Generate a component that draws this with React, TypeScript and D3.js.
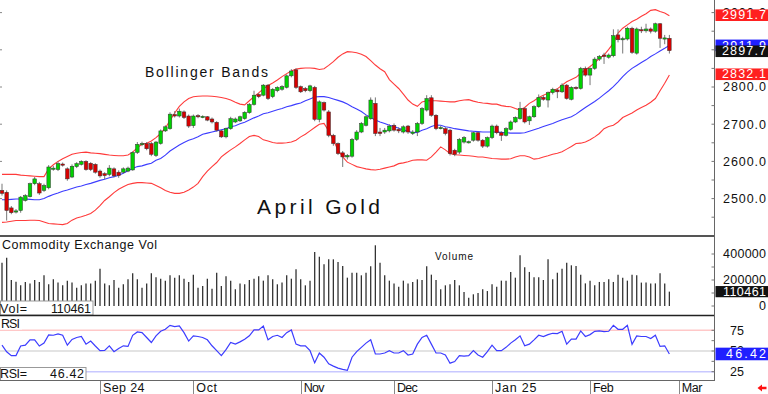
import React from 'react';
import * as d3 from 'd3';

const W = 768;
const H = 394;
const FONT = "'Liberation Sans', Arial, sans-serif";

// April Gold daily bars (index 0 = first bar on chart)
const opens = [2522,2517,2475,2465,2468,2495,2505,2540,2540,2522, 2529,2580,2578,2593,2580,2558,2586,2592,2600,2595, 2592,2574,2567,2565,2580,2571,2571,2574,2577,2624, 2646,2648,2648,2616,2648,2682,2688,2726,2722,2733, 2722,2696,2723,2720,2720,2714,2705,2682,2666,2688, 2706,2709,2715,2731,2753,2780,2778,2805,2774,2790, 2794,2799,2830,2846,2801,2796,2790,2799,2713,2758, 2733,2670,2648,2623,2612,2614,2659,2679,2697,2715, 2756,2679,2679,2682,2697,2686,2679,2695,2675,2679, 2702,2738,2771,2724,2690,2688,2684,2630,2625,2652, 2651,2657,2677,2657,2641,2664,2695,2677,2670,2686, 2706,2715,2742,2709,2720,2747,2772,2765,2785,2792, 2787,2805,2767,2799,2796,2850,2832,2850,2875,2886, 2880,2884,2940,2929,2929,2958,2891,2954,2951,2956, 2950,2970,2931,2931];
const highs = [2540,2522,2480,2472,2507,2512,2543,2558,2545,2540, 2590,2588,2600,2597,2584,2592,2598,2603,2603,2598, 2595,2578,2571,2590,2584,2576,2584,2586,2627,2652, 2653,2652,2652,2655,2686,2697,2732,2735,2742,2737, 2726,2726,2727,2724,2722,2718,2708,2685,2691,2720, 2718,2723,2735,2757,2790,2784,2808,2808,2797,2802, 2805,2834,2848,2850,2804,2800,2806,2803,2764,2761, 2738,2674,2651,2628,2620,2663,2684,2706,2724,2772, 2772,2690,2690,2700,2702,2692,2697,2698,2684,2706, 2746,2778,2778,2727,2696,2692,2688,2634,2663,2668, 2656,2680,2680,2660,2667,2699,2699,2681,2692,2710, 2721,2760,2746,2723,2751,2780,2778,2788,2798,2796, 2810,2808,2802,2802,2854,2855,2853,2880,2886,2892, 2890,2955,2955,2935,2962,2962,2960,2962,2970,2960, 2973,2972,2940,2940];
const lows = [2508,2441,2458,2460,2462,2492,2503,2536,2510,2518, 2525,2575,2574,2586,2548,2555,2582,2589,2575,2574, 2567,2556,2552,2560,2557,2556,2567,2571,2575,2620, 2641,2630,2614,2612,2645,2679,2685,2718,2718,2714, 2690,2690,2716,2716,2708,2702,2680,2663,2662,2685, 2703,2706,2712,2728,2750,2770,2775,2765,2770,2786, 2790,2796,2826,2795,2784,2786,2786,2708,2705,2734, 2665,2642,2617,2585,2605,2610,2655,2676,2694,2712, 2668,2668,2674,2678,2680,2676,2675,2674,2671,2668, 2698,2734,2720,2684,2686,2670,2616,2614,2620,2648, 2648,2653,2653,2636,2637,2660,2673,2655,2667,2683, 2703,2712,2702,2698,2717,2744,2763,2745,2780,2770, 2784,2766,2764,2793,2793,2828,2805,2846,2870,2862, 2876,2880,2920,2890,2925,2889,2887,2945,2946,2944, 2946,2905,2915,2890];
const closes = [2514,2468,2462,2467,2504,2508,2540,2553,2515,2535, 2585,2582,2594,2590,2553,2587,2594,2600,2578,2578, 2571,2561,2562,2582,2561,2562,2580,2582,2624,2646, 2648,2634,2619,2652,2682,2693,2727,2722,2735,2718, 2695,2722,2720,2721,2711,2706,2684,2666,2688,2715, 2714,2720,2732,2753,2778,2774,2805,2769,2794,2799, 2801,2830,2843,2799,2787,2790,2803,2713,2760,2738, 2670,2648,2621,2612,2616,2659,2679,2702,2720,2765, 2675,2675,2684,2695,2684,2682,2693,2679,2679,2702, 2742,2769,2724,2688,2691,2675,2621,2619,2659,2664, 2653,2677,2657,2641,2664,2695,2677,2670,2688,2706, 2718,2742,2706,2720,2747,2772,2767,2785,2794,2787, 2805,2769,2799,2796,2850,2832,2850,2875,2882,2882, 2886,2938,2927,2930,2958,2893,2956,2951,2956,2950, 2970,2931,2932,2897.7];

// Bollinger bands
const upperBand = [2565,2565,2565,2565,2563,2562,2561,2560,2559,2559, 2580,2591,2600,2607,2613,2619,2622,2624,2625,2623, 2622,2621,2619,2617,2616,2615,2615,2617,2625,2637, 2646,2649,2655,2664,2675,2690,2710,2730,2748,2760, 2769,2774,2775,2776,2776,2775,2774,2772,2769,2765, 2759,2754,2752,2763,2774,2784,2795,2804,2811,2819, 2828,2836,2843,2848,2850,2851,2851,2850,2847,2849, 2858,2868,2880,2889,2895,2894,2892,2888,2882,2871, 2859,2849,2841,2820,2808,2796,2781,2765,2754,2748, 2760,2763,2763,2763,2762,2761,2760,2760,2763,2765, 2766,2762,2759,2757,2756,2754,2754,2750,2748,2747, 2742,2738,2745,2756,2763,2772,2778,2783,2790,2795, 2805,2814,2820,2826,2837,2846,2855,2865,2877,2886, 2901,2918,2945,2958,2967,2976,2982,2990,2997,3006, 3008,3003,2999,2991.7];
const middleBand = [2497,2497,2498,2499,2499,2499,2498,2497,2497,2500, 2506,2511,2515,2520,2523,2527,2531,2534,2538,2541, 2545,2549,2552,2556,2559,2563,2568,2575,2581,2586, 2588,2592,2595,2603,2608,2617,2628,2636,2644,2651, 2657,2661,2666,2673,2676,2679,2682,2685,2688,2693, 2696,2701,2705,2711,2717,2722,2728,2731,2735,2739, 2742,2747,2750,2754,2757,2763,2768,2773,2774,2774, 2772,2768,2764,2760,2754,2747,2741,2734,2725,2718, 2711,2706,2702,2697,2694,2689,2685,2681,2677,2678, 2684,2688,2694,2698,2697,2693,2691,2688,2686,2684, 2682,2681,2680,2679,2679,2679,2679,2678,2677,2676, 2676,2676,2677,2681,2685,2689,2694,2698,2702,2707, 2712,2716,2720,2727,2736,2745,2753,2761,2770,2780, 2790,2801,2814,2828,2840,2850,2858,2866,2873,2882, 2889,2897,2904,2911.9];
const lowerBand = [2436,2437,2439,2441,2441,2441,2442,2442,2441,2437, 2433,2432,2431,2430,2433,2442,2448,2451,2455,2460, 2469,2481,2495,2505,2516,2525,2532,2538,2541,2543, 2543,2542,2541,2535,2529,2522,2517,2514,2514,2517, 2523,2531,2541,2559,2574,2586,2597,2612,2622,2631, 2639,2648,2658,2667,2670,2667,2658,2655,2651,2649, 2649,2650,2652,2657,2666,2673,2682,2691,2700,2702, 2682,2657,2631,2612,2598,2592,2586,2583,2580,2578, 2577,2579,2582,2585,2588,2594,2596,2599,2603,2604, 2604,2603,2612,2625,2639,2631,2621,2618,2617,2616, 2615,2614,2612,2612,2610,2608,2607,2606,2606,2607, 2612,2615,2615,2612,2606,2608,2612,2615,2619,2622, 2626,2633,2640,2648,2649,2652,2658,2666,2675,2688, 2694,2697,2706,2718,2724,2730,2738,2745,2751,2759, 2769,2790,2810,2832.1];

// Volume (contracts)
const volumes = [333000,372000,200000,187000,159000,185000,174000,200000,185000,236000, 167000,205000,180000,159000,195000,180000,141000,159000,174000,174000, 195000,287000,174000,159000,200000,141000,167000,205000,251000,205000, 141000,174000,251000,221000,210000,195000,236000,218000,236000,210000, 185000,241000,141000,154000,210000,133000,256000,154000,228000,195000, 128000,174000,167000,200000,210000,228000,195000,236000,205000,167000, 180000,236000,210000,282000,205000,159000,195000,415000,379000,321000, 359000,359000,338000,308000,218000,256000,256000,236000,256000,305000, 467000,333000,236000,195000,174000,149000,195000,174000,185000,205000, 200000,305000,241000,200000,128000,159000,167000,200000,159000,108000, 64000,90000,100000,128000,115000,167000,149000,195000,195000,262000, 218000,390000,298000,262000,221000,221000,200000,359000,205000,256000, 287000,333000,313000,308000,241000,174000,195000,159000,185000,185000, 205000,185000,241000,218000,195000,241000,236000,180000,180000,174000, 174000,251000,174000,110461];

// RSI
const rsi = [57,49,44.4,44.4,56,57,63.5,63.5,56,59.5, 69.4,69,70.6,69,57,64,66.3,67.5,58.3,62, 56,50.4,50.8,56.3,49.2,53,56.3,55.5,69,73, 72.2,66.3,60.3,68.3,73.8,76.2,81,79.4,80.2,72.2, 62,68.3,67.5,66.3,63.5,56.3,50.4,44.4,51.6,60.3, 58.3,61,64.3,68.3,75.4,75.4,80.2,63.5,67.5,69, 66.3,72.2,75.4,58.3,56.3,56.3,50.4,35.7,47.6,42.5, 34.5,31.7,29.4,27.8,26.6,42.5,49.2,54.4,59.5,63.5, 46.4,46.4,47.6,50.4,47.6,47.6,50.4,45.2,46.4,58.3, 66.3,69,58.3,47.6,47.6,45.2,35.3,37.3,44.4,43.7, 44.4,50.4,45.2,42.5,49.2,57.1,50.4,50.4,54.4,59.5, 63.5,68.3,56.3,58.3,63.5,69,67.5,69.8,71.4,71, 73.8,58.3,64.3,64.3,74.2,67.5,69.8,73.8,74.2,73.4, 73.8,81,76.2,76.2,81,58,68.3,67.5,67.5,65, 69,55.6,56.3,46.42];

const monthIndex = [21, 41, 64, 84, 105, 126, 145];
const monthLabels = ['Sep 24', 'Oct', 'Nov', 'Dec', 'Jan 25', 'Feb', 'Mar'];
const priceTicks = [2500, 2600, 2700, 2800, 2900, 3000];
const volumeTicks = [0, 200000, 400000];
const rsiTicks = [25, 75];

export default function App() {
  const n = closes.length;
  const idx = d3.range(n);
  const x = d3.scaleLinear().domain([0, n - 1]).range([2, 2 + (n - 1) * 4.667]);
  const yP = d3.scaleLinear().domain([2500, 2800]).range([198.6, 87]);
  const yV = d3.scaleLinear().domain([0, 400000]).range([306, 254]);
  const yR = d3.scaleLinear().domain([25, 75]).range([371.7, 330.3]);

  const bandPath = (arr: number[]) =>
    d3.line<number>().x((i) => x(i)).y((i) => yP(arr[i]))(idx) || '';
  const rsiPath = d3.line<number>().x((i) => x(i)).y((i) => yR(rsi[i]))(idx) || '';

  const axisX = 714.5;
  const lastClose = closes[n - 1];
  const lastVol = volumes[n - 1];
  const lastRsi = rsi[n - 1];
  const fmt1 = d3.format('.1f');

  const boxLabel = (y: number, fill: string, text: string, key: string) => (
    <g key={key}>
      <rect x={715.5} y={y - 5.8} width={52.5} height={11.6} fill={fill} />
      <text x={766} y={y + 4.2} fontSize={12.5} fill="#fff" textAnchor="end" textLength={44} lengthAdjust="spacing">{text}</text>
    </g>
  );

  const priceMinorTicks = d3.range(2450, 3051, 50);
  const volMinorTicks = d3.range(0, 400001, 100000);
  const rsiMinorTicks = d3.range(25, 76, 12.5);

  return (
    <div style={{ position: 'fixed', left: 0, top: 0, width: W, height: H, background: '#fff' }}>
      <svg width={W} height={H} style={{ display: 'block', fontFamily: FONT }}>
        <rect x={0} y={0} width={W} height={H} fill="#fff" />

        {/* left small price ticks */}
        {priceTicks.map((p) => (
          <line key={'lt' + p} x1={0} x2={2} y1={yP(p)} y2={yP(p)} stroke="#888" strokeWidth={1} />
        ))}

        {/* Bollinger bands */}
        <path d={bandPath(upperBand)} fill="none" stroke="#ff3b3b" strokeWidth={1.1} />
        <path d={bandPath(lowerBand)} fill="none" stroke="#ff3b3b" strokeWidth={1.1} />
        <path d={bandPath(middleBand)} fill="none" stroke="#3c3cff" strokeWidth={1.1} />

        {/* candles */}
        {idx.map((i) => {
          const o = opens[i];
          const c = closes[i];
          const up = c >= o;
          const top = yP(Math.max(o, c));
          const bot = yP(Math.min(o, c));
          const h = Math.max(bot - top, 1.2);
          const cx = x(i);
          return (
            <g key={'c' + i}>
              <line x1={cx} x2={cx} y1={yP(highs[i])} y2={yP(lows[i])} stroke="#777" strokeWidth={1} />
              <rect x={cx - 1.8} y={top} width={3.6} height={h} fill={up ? '#00d200' : '#d80000'} stroke="#333" strokeWidth={0.5} />
            </g>
          );
        })}

        <text x={145} y={77} fontSize={14} fill="#111" textLength={123} lengthAdjust="spacing">Bollinger Bands</text>
        <text x={257} y={214} fontSize={21} fill="#111" textLength={123} lengthAdjust="spacing">April Gold</text>

        {/* volume */}
        {idx.map((i) => (
          <line key={'v' + i} x1={x(i)} x2={x(i)} y1={yV(0)} y2={yV(volumes[i])} stroke="#333" strokeWidth={1.3} />
        ))}
        <text x={2} y={248.5} fontSize={12.5} fill="#111" textLength={155} lengthAdjust="spacing">Commodity Exchange Vol</text>
        <text x={435} y={259.5} fontSize={10} fill="#111" textLength={38} lengthAdjust="spacing">Volume</text>
        <rect x={0.5} y={301} width={92.5} height={14} fill="#fff" stroke="#999" strokeWidth={1} />
        <text x={0} y={312.5} fontSize={12.5} fill="#111" textLength={27} lengthAdjust="spacing">Vol=</text>
        <text x={91} y={312.5} fontSize={12.5} fill="#111" textAnchor="end" textLength={40} lengthAdjust="spacing">{String(lastVol)}</text>

        {/* RSI reference lines */}
        <line x1={0} x2={axisX} y1={yR(75)} y2={yR(75)} stroke="#ffc8c8" strokeWidth={1.5} />
        <line x1={0} x2={axisX} y1={yR(50)} y2={yR(50)} stroke="#c8c8c8" strokeWidth={1.2} />
        <line x1={0} x2={axisX} y1={yR(25)} y2={yR(25)} stroke="#c8c8ff" strokeWidth={1.5} />
        <path d={rsiPath} fill="none" stroke="#3c3cff" strokeWidth={1.2} />
        <rect x={0} y={317.5} width={22} height={12} fill="#fff" />
        <text x={1} y={327.5} fontSize={12.5} fill="#111" textLength={19} lengthAdjust="spacing">RSI</text>
        <rect x={0.5} y={367.5} width={85.5} height={13} fill="#fff" stroke="#999" strokeWidth={1} />
        <text x={0} y={378} fontSize={12.5} fill="#111" textLength={27} lengthAdjust="spacing">RSI=</text>
        <text x={84} y={378} fontSize={12.5} fill="#111" textAnchor="end" textLength={34} lengthAdjust="spacing">{lastRsi.toFixed(2)}</text>

        {/* panel separators and axis frame */}
        <line x1={0} x2={axisX} y1={236} y2={236} stroke="#555" strokeWidth={2} />
        <line x1={0} x2={axisX} y1={315.5} y2={315.5} stroke="#222" strokeWidth={1.5} />
        <line x1={0} x2={axisX} y1={380.5} y2={380.5} stroke="#666" strokeWidth={1} />
        <line x1={axisX} x2={axisX} y1={0} y2={381} stroke="#666" strokeWidth={1} />

        {/* right minor ticks */}
        {priceMinorTicks.map((p) => (
          <line key={'pt' + p} x1={axisX - 3} x2={axisX} y1={yP(p)} y2={yP(p)} stroke="#777" />
        ))}
        {volMinorTicks.map((v) => (
          <line key={'vt' + v} x1={axisX - 3} x2={axisX} y1={yV(v)} y2={yV(v)} stroke="#777" />
        ))}
        {rsiMinorTicks.map((r) => (
          <line key={'rt' + r} x1={axisX - 3} x2={axisX} y1={yR(r)} y2={yR(r)} stroke="#777" />
        ))}

        {/* price axis labels (some sit under the value boxes, as in the original) */}
        {priceTicks.map((p) => (
          <text key={'pl' + p} x={766} y={yP(p) + 4.3} fontSize={12.5} fill="#111" textAnchor="end" textLength={43} lengthAdjust="spacing">{fmt1(p)}</text>
        ))}
        {boxLabel(yP(upperBand[n - 1]) - 0.5, '#ff2020', fmt1(upperBand[n - 1]), 'ub')}
        {boxLabel(yP(middleBand[n - 1]), '#2020ff', fmt1(middleBand[n - 1]), 'mb')}
        {boxLabel(yP(lowerBand[n - 1]) - 0.8, '#ff2020', fmt1(lowerBand[n - 1]), 'lb')}
        {boxLabel(yP(lastClose) + 0.6, '#111', fmt1(lastClose), 'cl')}

        {/* volume axis labels */}
        {volumeTicks.map((v) => (
          <text key={'vl' + v} x={766} y={yV(v) + 4.3} fontSize={12.5} fill="#111" textAnchor="end" textLength={v === 0 ? 7 : 43} lengthAdjust="spacing">{String(v)}</text>
        ))}
        <rect x={715.5} y={yV(lastVol) - 5.6} width={52.5} height={11.2} fill="#111" />
        <text x={766} y={yV(lastVol) + 4.3} fontSize={12.5} fill="#fff" textAnchor="end" textLength={43} lengthAdjust="spacing">{String(lastVol)}</text>

        {/* RSI axis labels */}
        {rsiTicks.map((r) => (
          <text key={'rl' + r} x={744} y={yR(r) + 4.3} fontSize={12.5} fill="#111" textAnchor="end" textLength={14} lengthAdjust="spacing">{String(r)}</text>
        ))}
        <text x={744} y={yR(50) + 4.3} fontSize={12.5} fill="#111" textAnchor="end">50</text>
        <rect x={715.5} y={yR(lastRsi) - 6.3} width={52.5} height={12.6} fill="#2020ff" />
        <text x={766} y={yR(lastRsi) + 4.5} fontSize={12.5} fill="#fff" textAnchor="end" textLength={40} lengthAdjust="spacing">{lastRsi.toFixed(2)}</text>

        {/* date axis */}
        {monthIndex.map((mi, k) => (
          <g key={'m' + k}>
            <line x1={Math.round(x(mi)) + 0.5} x2={Math.round(x(mi)) + 0.5} y1={381} y2={394} stroke="#888" strokeWidth={1} />
            <text x={x(mi) + 3} y={392} fontSize={12.5} fill="#111" textLength={monthLabels[k].length * 6.9} lengthAdjust="spacing">{monthLabels[k]}</text>
          </g>
        ))}

        {/* red arrow */}
        <path d="M757.5,388 L762,384.5 L762,386.8 L766.5,386.8 L766.5,389.2 L762,389.2 L762,391.5 Z" fill="#ff1010" />
      </svg>
    </div>
  );
}
